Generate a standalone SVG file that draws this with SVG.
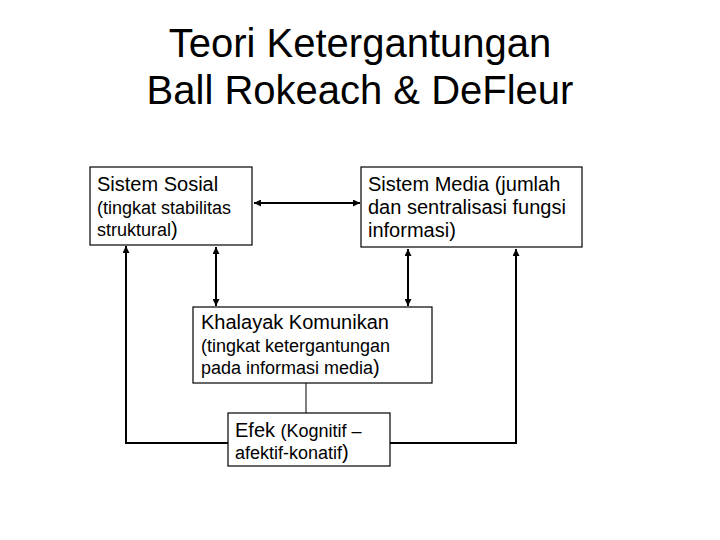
<svg xmlns="http://www.w3.org/2000/svg" width="720" height="540" viewBox="0 0 720 540">
<defs>
<marker id="ah" viewBox="0 0 10 10" refX="10" refY="5" markerWidth="4" markerHeight="3.5" orient="auto-start-reverse" markerUnits="strokeWidth">
<path d="M0,0 L10,5 L0,10 z" fill="#000"/>
</marker>
<style>
text{font-family:"Liberation Sans",Arial,sans-serif;fill:#000}
.title{font-size:40px;text-anchor:middle}
.t20{font-size:20px}
.t18{font-size:18px}
.box{fill:#fff;stroke:#000;stroke-width:1.2}
.arr{fill:none;stroke:#000;stroke-width:2}
.thin{fill:none;stroke:#000;stroke-width:1}
</style>
</defs>
<rect width="720" height="540" fill="#fff"/>
<g id="title">
<text class="title" x="360" y="57">Teori Ketergantungan</text>
<text class="title" x="360" y="104">Ball Rokeach &amp; DeFleur</text>
</g>
<g id="connectors">
<line class="arr" x1="254" y1="203" x2="360" y2="203" marker-start="url(#ah)" marker-end="url(#ah)"/>
<line class="arr" x1="216" y1="247" x2="216" y2="306" marker-start="url(#ah)" marker-end="url(#ah)"/>
<line class="arr" x1="408" y1="249" x2="408" y2="306" marker-start="url(#ah)" marker-end="url(#ah)"/>
<line class="thin" x1="306" y1="383" x2="306" y2="413"/>
<polyline class="arr" points="228,443 126,443 126,246" marker-end="url(#ah)"/>
<polyline class="arr" points="390,443 516,443 516,249" marker-end="url(#ah)"/>
</g>
<g id="sistem-sosial">
<rect class="box" x="90" y="167" width="162" height="78"/>
<text class="t20" x="97" y="191">Sistem Sosial</text>
<text class="t18" x="97" y="214">(tingkat stabilitas</text>
<text class="t18" x="97" y="236">struktural<tspan class="t20">)</tspan></text>
</g>
<g id="sistem-media">
<rect class="box" x="361" y="167" width="221" height="80"/>
<text class="t20" x="368" y="191">Sistem Media (jumlah</text>
<text class="t20" x="368" y="214">dan sentralisasi fungsi</text>
<text class="t20" x="368" y="237">informasi)</text>
</g>
<g id="khalayak">
<rect class="box" x="193" y="307" width="239" height="76"/>
<text class="t20" x="201" y="329">Khalayak Komunikan</text>
<text class="t18" x="201" y="352">(tingkat ketergantungan</text>
<text class="t18" x="201" y="374">pada informasi media<tspan class="t20">)</tspan></text>
</g>
<g id="efek">
<rect class="box" x="228" y="413" width="162" height="53"/>
<text class="t20" x="235" y="437">Efek <tspan class="t18">(Kognitif –</tspan></text>
<text class="t18" x="235" y="459">afektif-konatif<tspan class="t20">)</tspan></text>
</g>
</svg>
